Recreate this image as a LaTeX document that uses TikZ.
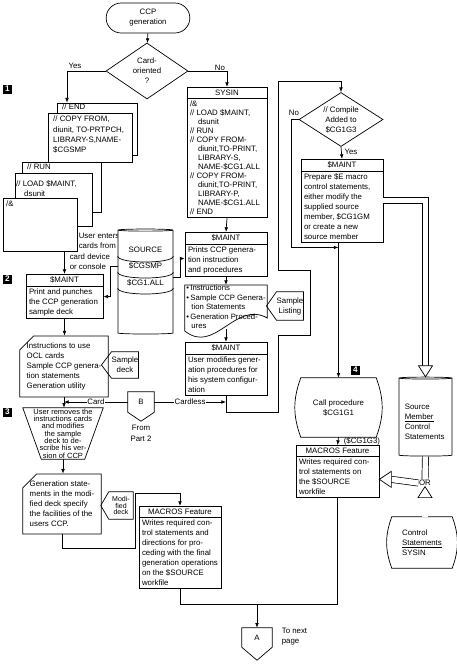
\documentclass[tikz,border=0pt]{standalone}
\usepackage{fontspec}
\setmainfont{Liberation Sans}
\usetikzlibrary{arrows.meta,positioning,calc,shapes.geometric,shapes.misc,shapes.multipart}
\newdimen\pxl \pxl=0.03cm
\newcommand\ind{\hspace*{0.24cm}}
\tikzset{
  ccp/base/.style={
    draw=black,
    line width=0.6pt,
    fill=white,
    font=\fontsize{6.7}{8.5}\selectfont
  },
  ccp/term/.style={ccp/base, rounded rectangle, minimum width=86\pxl, minimum height=30\pxl, align=center, inner sep=1pt},
  ccp/decision/.style={ccp/base, diamond, aspect=1.5, align=center, inner sep=0pt},
  ccp/proc/.style={
    ccp/base,
    rectangle split,
    rectangle split parts=2,
    rectangle split part align={center,left},
    align=left,
    inner xsep=3\pxl,
    inner ysep=2pt
  },
  ccp/card/.style={ccp/base, chamfered rectangle, chamfered rectangle corners=north west, chamfered rectangle sep=7\pxl, inner sep=0pt, align=left},
  ccp/cardtext/.style={font=\fontsize{6.7}{8.8}\selectfont, align=left, inner sep=0pt, anchor=north west},
  ccp/free/.style={font=\fontsize{6.7}{8.5}\selectfont, align=center, inner sep=0pt},
  ccp/disk/.style={ccp/base, cylinder, shape border rotate=90, aspect=0.27},
  ccp/numtag/.style={fill=black, text=white, font=\bfseries\fontsize{7}{7}\selectfont, minimum size=9\pxl, inner sep=0pt},
  ccp/lbl/.style={font=\fontsize{6.7}{8.5}\selectfont, inner sep=0.5pt},
  ccp/line/.style={line width=0.6pt},
  ccp/arrow/.style={-{Latex[length=1.4mm,width=1.1mm]}, line width=0.6pt},
  ccp/hollow/.style={line width=0.6pt, double, double distance=5.5\pxl},
  ccp/hhead/.style={line width=0.6pt, fill=white, line join=miter}
}

\begin{document}
\begin{tikzpicture}[x=0.03cm,y=-0.03cm]
  \useasboundingbox (0,0) rectangle (457,666);

  % start and first decision
  \node[ccp/term] (start) at (148,18) {CCP\\generation};
  \node[ccp/decision, minimum width=82\pxl, minimum height=56\pxl] (cardq) at (147,71) {Card-\\oriented\\?};
  \node[ccp/lbl] (yeslbl) at (75,66) {Yes};
  \node[ccp/lbl] (nolbl) at (220,68) {No};

  % card deck
  \node[ccp/card, minimum width=80\pxl, minimum height=52\pxl] (cardA) at (97,129) {};
  \node[ccp/cardtext] (cardAtxt) at (62,104) {// END};
  \node[ccp/card, minimum width=84\pxl, minimum height=49\pxl] (cardB) at (90,137.5) {};
  \node[ccp/cardtext] (cardBtxt) at (53,116) {// COPY FROM,\\diunit, TO-PRTPCH,\\LIBRARY-S,NAME-\\\$CGSMP};
  \node[ccp/card, minimum width=79\pxl, minimum height=50\pxl] (cardC) at (61.5,187) {};
  \node[ccp/cardtext] (cardCtxt) at (27,164) {// RUN};
  \node[ccp/card, minimum width=77\pxl, minimum height=53\pxl] (cardD) at (53.5,199.5) {};
  \node[ccp/cardtext] (cardDtxt) at (16,180) {// LOAD \$MAINT,\\\ind dsunit};
  \node[ccp/card, minimum width=74\pxl, minimum height=53\pxl] (cardE) at (40,224.5) {};
  \node[ccp/cardtext] (cardEtxt) at (6,201) {/\&};
  \node[ccp/lbl, anchor=north west, align=left] (usertxt) at (78,232) {User enters\\cards from};
  \node[ccp/lbl, anchor=north west, align=left] (usertxtb) at (69,253) {card device\\or console};

  % left column
  \node[ccp/proc, minimum width=77\pxl, minimum height=53\pxl, anchor=north] (mnt1) at (64.5,274) {\$MAINT\nodepart{two}Print and punches\\the CCP generation\\sample deck};
  \node[ccp/disk, minimum width=55\pxl, minimum height=105\pxl] (disk) at (145.5,282.5) {};
  \draw[ccp/line] ($(disk.west)+(0,-26.5)$) .. controls +(0,8) and +(0,8) .. ($(disk.east)+(0,-26.5)$);
  \draw[ccp/line] ($(disk.west)+(0,-10.5)$) .. controls +(0,8) and +(0,8) .. ($(disk.east)+(0,-10.5)$);
  \draw[ccp/line] ($(disk.west)+(0,5.5)$) .. controls +(0,8) and +(0,8) .. ($(disk.east)+(0,5.5)$);
  \node[ccp/lbl, align=center, font=\fontsize{6.7}{14}\selectfont] (disktxt) at (145.5,266.5) {SOURCE\\\$CGSMP\\\$CG1.ALL};
  \node[ccp/card, minimum width=78\pxl, minimum height=59\pxl] (inst) at (64,366.5) {Instructions to use\\OCL cards\\Sample CCP genera-\\tion statements\\Generation utility};
  \node[ccp/free, minimum width=26\pxl, minimum height=26\pxl] (sdeck) at (125,365) {Sample\\deck};
  \draw[ccp/line] (sdeck.north east) -- (sdeck.south east) -- (sdeck.south west) -- ($(sdeck.west)+(-10,0)$) -- (sdeck.north west) -- cycle;
  \node[ccp/free, minimum width=80\pxl, minimum height=51\pxl, font=\fontsize{6.4}{6.3}\selectfont] (manop) at (63,433.5) {User removes the\\instructions cards\\and modifies\\the sample\\deck to de-\\scribe his ver-\\sion of CCP};
  \draw[ccp/line] (manop.north west) -- (manop.north east) -- ($(manop.south east)+(-18.5,0)$) -- ($(manop.south west)+(18.5,0)$) -- cycle;
  \node[ccp/card, minimum width=78\pxl, minimum height=60\pxl] (gens) at (62,504) {Generation state-\\ments in the modi-\\fied deck specify\\the facilities of the\\users CCP.};
  \node[ccp/free, minimum width=24\pxl, minimum height=27\pxl, font=\fontsize{6}{5.5}\selectfont] (mdeck) at (121,505.5) {Modi-\\fied\\deck};
  \draw[ccp/line] (mdeck.north east) -- (mdeck.south east) -- (mdeck.south west) -- ($(mdeck.west)+(-8,0)$) -- (mdeck.north west) -- cycle;
  \node[ccp/proc, minimum width=82\pxl, minimum height=93\pxl, anchor=north] (mac2) at (180,506) {MACROS Feature\nodepart{two}Writes required con-\\trol statements and\\directions for pro-\\ceding with the final\\generation operations\\on the \$SOURCE\\workfile};
  \node[ccp/free, minimum width=26\pxl, minimum height=20\pxl] (bconn) at (141,402) {B};
  \draw[ccp/line] (bconn.north west) -- (bconn.north east) -- (bconn.south east) -- ($(bconn.south)+(0,9)$) -- (bconn.south west) -- cycle;
  \node[ccp/lbl, align=center, font=\fontsize{6.7}{9.4}\selectfont] (bfrom) at (141,433.5) {From\\Part 2};

  % SYSIN column
  \node[ccp/proc, minimum width=80\pxl, minimum height=132\pxl, anchor=north, font=\fontsize{6.7}{7.7}\selectfont] (sysin) at (227,87) {SYSIN\nodepart{two}/\&\\// LOAD \$MAINT,\\\ind dsunit\\// RUN\\// COPY FROM-\\\ind diunit,TO-PRINT,\\\ind LIBRARY-S,\\\ind NAME-\$CG1.ALL\\// COPY FROM-\\\ind diunit,TO-PRINT,\\\ind LIBRARY-P,\\\ind NAME-\$CG1.ALL\\// END};
  \node[ccp/proc, minimum width=82\pxl, minimum height=40\pxl, anchor=north] (mnt2) at (226,232) {\$MAINT\nodepart{two}Prints CCP genera-\\tion instruction\\and procedures};
  \node[ccp/free, align=left, minimum width=82\pxl, minimum height=42\pxl, anchor=north, font=\fontsize{6.6}{8.1}\selectfont] (bull) at (226,285) {\textbullet\,Instructions\\\textbullet\,Sample CCP Genera-\\\hspace*{0.15cm}tion Statements\\\textbullet\,Generation Proced-\\\hspace*{0.15cm}ures};
  \draw[ccp/line] (bull.north west) -- (bull.north east) -- ($(bull.north east)+(0,33)$) .. controls +(-32,-18) and +(30,24) .. ($(bull.north west)+(0,46)$) -- cycle;
  \node[ccp/free, minimum width=26\pxl, minimum height=28\pxl] (slist) at (290,306) {Sample\\Listing};
  \draw[ccp/line] (slist.north east) -- (slist.south east) -- (slist.south west) -- ($(slist.west)+(-10,0)$) -- (slist.north west) -- cycle;
  \node[ccp/proc, minimum width=82\pxl, minimum height=56\pxl, anchor=north] (mnt3) at (226,342) {\$MAINT\nodepart{two}User modifies gener-\\ation procedures for\\his system configur-\\ation};

  % right column
  \node[ccp/decision, minimum width=84\pxl, minimum height=54\pxl] (compq) at (341,119.5) {// Compile\\Added to\\\$CG1G3};
  \node[ccp/lbl] (nolblb) at (294,113) {No};
  \node[ccp/lbl] (yeslblb) at (351,152) {Yes};
  \node[ccp/proc, minimum width=82\pxl, minimum height=97\pxl, anchor=north] (prep) at (342,159) {\$MAINT\nodepart{two}Prepare \$E macro\\control statements,\\either modify the\\supplied source\\member, \$CG1GM\\or create a new\\source member};
  \node[ccp/free, minimum width=75\pxl, minimum height=59\pxl] (callp) at (338.5,407.5) {Call procedure\\\$CG1G1};
  \draw[ccp/line] (callp.north west) to[bend right=20] (callp.south west) -- (callp.south east) to[bend right=20] (callp.north east) -- cycle;
  \node[ccp/lbl, anchor=west] (cglbl) at (343,441) {(\$CG1G3)};
  \node[ccp/proc, minimum width=83\pxl, minimum height=60\pxl, anchor=north] (mac1) at (337.5,445) {MACROS Feature\nodepart{two}Writes required con-\\trol statements on\\the \$SOURCE\\workfile};
  \node[ccp/disk, aspect=0.25, minimum width=53\pxl, minimum height=79\pxl] (smem) at (425.5,417.5) {};
  \node[ccp/lbl, anchor=west, align=left] (smemtxt) at (404,422) {Source\\\underline{Member}\\Control\\Statements};
  \node[ccp/lbl] (ornode) at (425,483) {OR};
  \node[ccp/free, align=left, minimum width=60\pxl, minimum height=51\pxl] (ctrl) at (422,542.5) {Control\\\underline{Statements}\\SYSIN};
  \draw[ccp/line] (ctrl.north west) to[bend right=20] (ctrl.south west) -- (ctrl.south east) to[bend right=20] (ctrl.north east) -- cycle;
  \node[ccp/free, minimum width=30\pxl, minimum height=19\pxl] (aconn) at (257,637.5) {A};
  \draw[ccp/line] (aconn.north west) -- (aconn.north east) -- (aconn.south east) -- ($(aconn.south)+(0,13)$) -- (aconn.south west) -- cycle;
  \node[ccp/lbl, anchor=west, align=left] (atxt) at (281,637) {To next\\page};

  % step tags
  \node[ccp/numtag] (tag1) at (7.5,89) {1};
  \node[ccp/numtag] (tag2) at (7.5,279) {2};
  \node[ccp/numtag] (tag3) at (7.5,412) {3};
  \node[ccp/numtag] (tag4) at (355.5,370) {4};

  % loop corners
  \coordinate (lp1) at (278,412);
  \coordinate (lp2) at (278,335);
  \coordinate (lp3) at (310,335);
  \coordinate (lp4) at (310,270);
  \coordinate (lp5) at (278,270);
  \coordinate (lp6) at (278,81);
  \coordinate (md1) at (135,548);
  \coordinate (md2) at (135,493);

  % connectors
  \draw[ccp/arrow] (start) -- (cardq);
  \draw[ccp/arrow] (cardq.west) -| ($(cardA.north)+(-30,0)$);
  \draw[ccp/arrow] (cardq.east) -| (sysin.north);
  \draw[ccp/arrow] (mnt1.north |- cardE.south) -- (mnt1.north);
  \draw[ccp/arrow] ($(disk.west)+(0,-16.5)$) -- ++(-7,0) |- (mnt1.east);
  \draw[ccp/arrow] ($(disk.east)+(0,-5.5)$) -- ++(7,0) |- ($(mnt2.west)+(0,4)$);
  \draw[ccp/arrow] (mnt1.south) -- (mnt1.south |- inst.north);
  \draw[ccp/arrow] (inst.south) -- (inst.south |- manop.north);
  \draw[ccp/arrow] (bconn.west) -- node[ccp/lbl, fill=white] (cardlbl) {Card} (inst.south |- bconn.west);
  \draw[ccp/arrow] (manop.south) -- (manop.south |- gens.north);
  \draw[ccp/arrow] (gens.south) |- (md1) -- (md2) -| (mac2.north);
  \draw[ccp/line] (mac2.south) -- ++(0,16) -| (mac1.south);
  \draw[ccp/arrow] ($(mac2.south)+(0,16)$) -| (aconn.north);
  \draw[ccp/arrow] (sysin.south) -- (mnt2.north);
  \draw[ccp/arrow] (mnt2.south) -- (bull.north);
  \draw[ccp/arrow] (bull.south) -- (mnt3.north);
  \draw[ccp/arrow] (bconn.east) -- node[ccp/lbl, fill=white] (cardlesslbl) {Cardless} (mnt3.south |- bconn.east);
  \draw[ccp/arrow] (mnt3.south) |- (lp1) -- (lp2) -- (lp3) -- (lp4) -- (lp5) -- (lp6) -| (compq.north);
  \draw[ccp/arrow] (compq.south) -- (prep.north);
  \draw[ccp/arrow] (compq.west) -- ++(-7,0) |- ($(callp.north |- prep.south)+(0,5)$);
  \draw[ccp/arrow] (callp.north |- prep.south) -- (callp.north);
  \draw[ccp/arrow] (callp.south) -- (mac1.north);

  % hollow flows
  \draw[ccp/hollow] (prep.east) -| ($(smem.north)+(0,-11)$);
  \draw[ccp/hhead] ($(smem.north)+(-7,-11)$) -- ($(smem.north)+(7,-11)$) -- (smem.north) -- cycle;
  \draw[ccp/hollow] (smem.south) -- (ornode.north);
  \draw[ccp/hollow] (ornode.west) -- ($(mac1.east)+(12,8)$);
  \draw[ccp/hhead] ($(mac1.east)+(12,0)$) -- ($(mac1.east)+(12,16)$) -- ($(mac1.east)+(0,8)$) -- cycle;
  \draw[ccp/hollow] (ctrl.north -| ornode.south) -- ($(ornode.south)+(0,11)$);
  \draw[ccp/hhead] ($(ornode.south)+(-7,11)$) -- ($(ornode.south)+(7,11)$) -- (ornode.south) -- cycle;
\end{tikzpicture}
\end{document}
